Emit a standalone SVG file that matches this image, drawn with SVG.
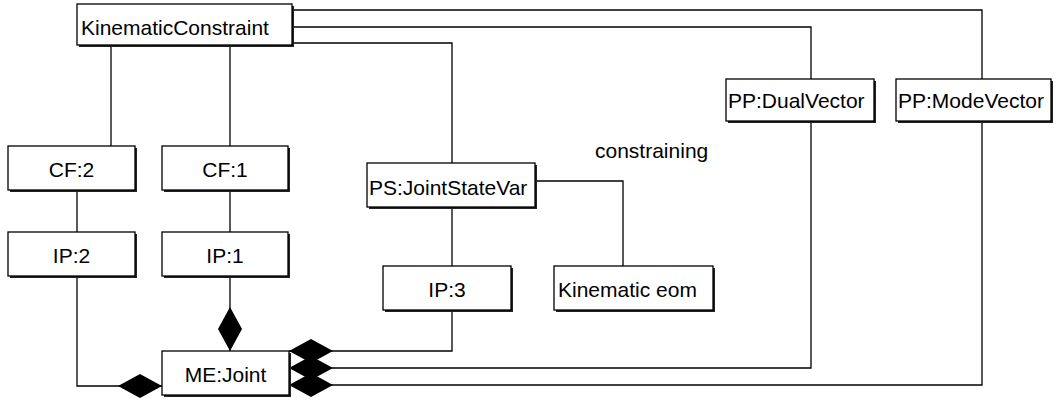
<svg xmlns="http://www.w3.org/2000/svg" width="1056" height="400" viewBox="0 0 1056 400">
<style>
.box{fill:#fff;stroke:#000;stroke-width:1.3}
.sh{fill:#222}
.t{font-family:"Liberation Sans",Arial,Helvetica,sans-serif;font-size:21px;fill:#000}
.c{text-anchor:middle}
.ln{fill:none;stroke:#000;stroke-width:1.3}
</style>
<defs>
<marker id="dia" viewBox="0 0 44 24" markerWidth="44" markerHeight="24" refX="44" refY="12" orient="auto" markerUnits="userSpaceOnUse">
<path d="M0,12 L22,0 L44,12 L22,24 Z" fill="#000"/>
</marker>
</defs>
<rect width="1056" height="400" fill="#fff"/>
<g id="connectors">
<path class="ln" d="M111,45 V146"/>
<path class="ln" d="M230,45 V146"/>
<path class="ln" d="M292,43 H452 V163"/>
<path class="ln" d="M292,27 H811 V79"/>
<path class="ln" d="M292,10 H982 V79"/>
<path class="ln" d="M77,190 V232"/>
<path class="ln" d="M230,190 V232"/>
<path class="ln" d="M452,207 V266"/>
<path class="ln" d="M535,181 H623 V266"/>
<path class="ln" d="M77,276 V386 H162" marker-end="url(#dia)"/>
<path class="ln" d="M230,276 V351" marker-end="url(#dia)"/>
<path class="ln" d="M452,310 V351 H289" marker-end="url(#dia)"/>
<path class="ln" d="M811,121 V368 H289" marker-end="url(#dia)"/>
<path class="ln" d="M982,121 V385 H289" marker-end="url(#dia)"/>
</g>
<g id="KinematicConstraint">
<rect class="sh" x="79" y="6" width="215" height="41"/>
<rect class="box" x="77" y="4" width="215" height="41"/>
<text class="t" x="81" y="35">KinematicConstraint</text>
</g>
<g id="CF2">
<rect class="sh" x="10" y="148" width="127" height="44"/>
<rect class="box" x="8" y="146" width="127" height="44"/>
<text class="t c" x="71.5" y="177">CF:2</text>
</g>
<g id="CF1">
<rect class="sh" x="164" y="148" width="126" height="44"/>
<rect class="box" x="162" y="146" width="126" height="44"/>
<text class="t c" x="225" y="177">CF:1</text>
</g>
<g id="IP2">
<rect class="sh" x="10" y="234" width="127" height="44"/>
<rect class="box" x="8" y="232" width="127" height="44"/>
<text class="t c" x="71.5" y="263">IP:2</text>
</g>
<g id="IP1">
<rect class="sh" x="164" y="234" width="126" height="44"/>
<rect class="box" x="162" y="232" width="126" height="44"/>
<text class="t c" x="225" y="263">IP:1</text>
</g>
<g id="PSJointStateVar">
<rect class="sh" x="369" y="165" width="168" height="44"/>
<rect class="box" x="367" y="163" width="168" height="44"/>
<text class="t" x="369" y="195">PS:JointStateVar</text>
</g>
<g id="IP3">
<rect class="sh" x="385" y="268" width="128" height="44"/>
<rect class="box" x="383" y="266" width="128" height="44"/>
<text class="t c" x="447" y="297">IP:3</text>
</g>
<g id="KinematicEom">
<rect class="sh" x="556" y="268" width="159" height="44"/>
<rect class="box" x="554" y="266" width="159" height="44"/>
<text class="t" x="558" y="297">Kinematic eom</text>
</g>
<g id="PPDualVector">
<rect class="sh" x="728" y="81" width="148" height="42"/>
<rect class="box" x="726" y="79" width="148" height="42"/>
<text class="t" x="728" y="108">PP:DualVector</text>
</g>
<g id="PPModeVector">
<rect class="sh" x="898" y="81" width="155" height="42"/>
<rect class="box" x="896" y="79" width="155" height="42"/>
<text class="t" x="898" y="108">PP:ModeVector</text>
</g>
<g id="MEJoint">
<rect class="sh" x="164" y="353" width="127" height="44"/>
<rect class="box" x="162" y="351" width="127" height="44"/>
<text class="t c" x="225.5" y="382">ME:Joint</text>
</g>
<text class="t" x="595" y="158">constraining</text>
</svg>
